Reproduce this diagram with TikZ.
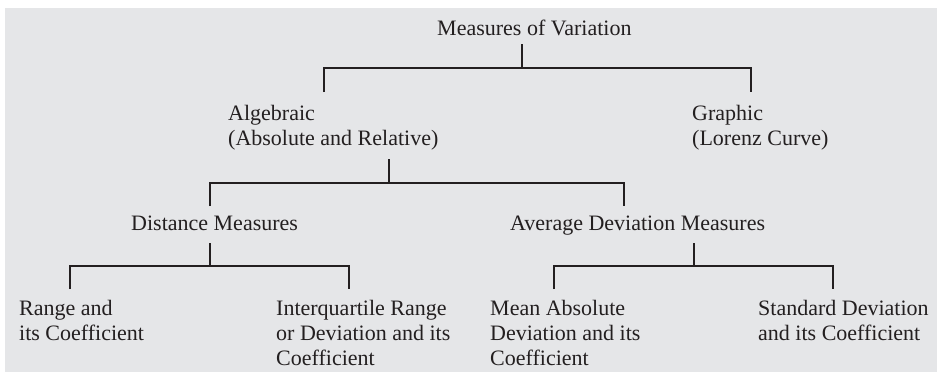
\documentclass[tikz,border=0pt]{standalone}
\usepackage{fontspec}
\setmainfont{Liberation Serif}
\definecolor{panel}{RGB}{229,230,232}
\definecolor{ink}{RGB}{35,31,32}

\begin{document}
\begin{tikzpicture}[x=1pt,y=-1pt,
  lbl/.style={anchor=base west,inner sep=0pt,align=left,text=ink,
    font=\fontsize{22}{25}\selectfont},
  br/.style={draw=ink,line width=1.6pt}]
\useasboundingbox (0,0) rectangle (937,372);
\fill[panel] (5,8) rectangle (937,372);
% texts (base = last line)
\node[lbl] (root) at (437,35) {Measures of Variation};
\node[lbl] (alg) at (228,145) {Algebraic\\(Absolute and Relative)};
\node[lbl] (gra) at (692,145) {Graphic\\(Lorenz Curve)};
\node[lbl] (dist) at (131,230) {Distance Measures};
\node[lbl] (avg) at (510,230) {Average Deviation Measures};
\node[lbl] (rng) at (19,340) {Range and\\its Coefficient};
\node[lbl] (iqr) at (276,365) {Interquartile Range\\or Deviation and its\\Coefficient};
\node[lbl] (mad) at (490,365) {Mean Absolute\\Deviation and its\\Coefficient};
\node[lbl] (sd) at (758,340) {Standard Deviation\\and its Coefficient};
% bracket points
\coordinate (root-dn) at (522,44);  \coordinate (root-j) at (522,68);
\coordinate (alg-up) at (324,92);   \coordinate (gra-up) at (751,92);
\coordinate (alg-dn) at (389,159);  \coordinate (alg-j) at (389,183);
\coordinate (dist-up) at (210,206); \coordinate (avg-up) at (624,206);
\coordinate (dist-dn) at (210,243); \coordinate (dist-j) at (210,266);
\coordinate (rng-up) at (70,289);   \coordinate (iqr-up) at (349,289);
\coordinate (avg-dn) at (694,243);  \coordinate (avg-j) at (694,266);
\coordinate (mad-up) at (554,289);  \coordinate (sd-up) at (833,289);
% brackets
\draw[br] (root-dn) -- (root-j);
\draw[br] (alg-up) |- (root-j) -| (gra-up);
\draw[br] (alg-dn) -- (alg-j);
\draw[br] (dist-up) |- (alg-j) -| (avg-up);
\draw[br] (dist-dn) -- (dist-j);
\draw[br] (rng-up) |- (dist-j) -| (iqr-up);
\draw[br] (avg-dn) -- (avg-j);
\draw[br] (mad-up) |- (avg-j) -| (sd-up);
\end{tikzpicture}
\end{document}
